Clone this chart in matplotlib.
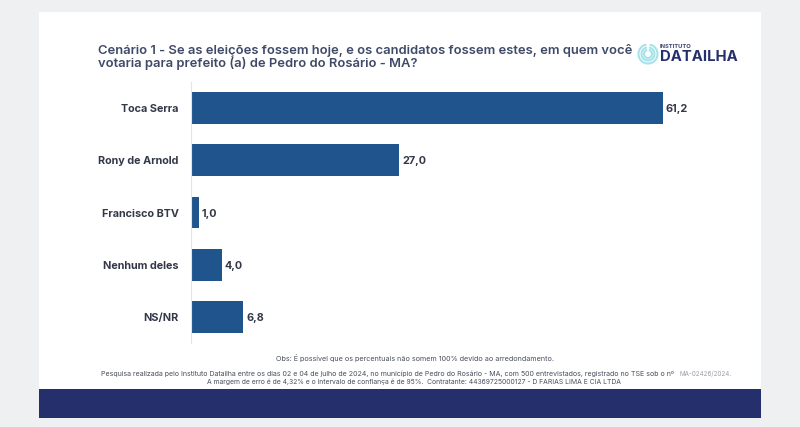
import matplotlib

matplotlib.use("Agg")
import matplotlib.pyplot as plt
from matplotlib.patches import Arc, Rectangle

categories = ["Toca Serra", "Rony de Arnold", "Francisco BTV", "Nenhum deles", "NS/NR"]
values = [61.2, 27.0, 1.0, 4.0, 6.8]
value_labels = ["61,2", "27,0", "1,0", "4,0", "6,8"]

title_lines = [
    "Cenário 1 - Se as eleições fossem hoje, e os candidatos fossem estes, em quem você",
    "votaria para prefeito (a) de Pedro do Rosário - MA?",
]
obs_text = "Obs: É possível que os percentuais não somem 100% devido ao arredondamento."
note_line1 = (
    "Pesquisa realizada pelo Instituto Datailha entre os dias 02 e 04 de julho de 2024, "
    "no município de Pedro do Rosário - MA, com 500 entrevistados, registrado no TSE sob o nº"
)
note_code = "MA-02426/2024."
note_line2 = (
    "A margem de erro é de 4,32% e o intervalo de confiança é de 95%.  "
    "Contratante: 44369725000127 - D FARIAS LIMA E CIA LTDA"
)

W, H = 800, 427
plt.rcParams["font.family"] = ["Inter", "DejaVu Sans"]

fig = plt.figure(figsize=((W + 0.01) / 100, (H + 0.01) / 100), dpi=100, facecolor="#eff0f2")

# whole figure in pixel coords for the page furniture
bg = fig.add_axes([0, 0, 1, 1])
bg.set_xlim(0, W)
bg.set_ylim(H, 0)
bg.axis("off")
bg.add_patch(Rectangle((39, 12), 722, 377, color="white", lw=0))
bg.add_patch(Rectangle((39, 389), 722, 29, color="#252f6b", lw=0))

title_color = "#3f4a68"
bg.text(98, 50, title_lines[0], fontsize=9.35, fontweight="semibold", color=title_color, va="center")
bg.text(98, 63, title_lines[1], fontsize=9.35, fontweight="semibold", color=title_color, va="center")

note_color = "#4a4f5c"
bg.text(415, 358, obs_text, fontsize=5.2, color=note_color, ha="center", va="center")
bg.text(101, 374, note_line1, fontsize=5.07, color=note_color, va="center")
bg.text(679, 374, note_code, fontsize=4.5, color="#9a9ea8", va="center")
bg.text(207, 382, note_line2, fontsize=4.9, color=note_color, va="center")

# logo
logo_color = "#a5e3ea"
for d in [8, 13, 19]:
    bg.add_patch(Arc((648, 54), d, d, theta1=-80, theta2=260, color=logo_color, lw=1.5))
bg.text(660, 46, "INSTITUTO", fontsize=4.2, fontweight="bold", color="#3a4470", va="center")
bg.text(660, 57, "DATAILHA", fontsize=10.7, fontweight="bold", color="#252f6b", va="center")

# bars
ax = fig.add_axes([191 / W, 1 - 343 / H, 590 / W, 261 / H])
ax.patch.set_alpha(0)
ax.barh(range(len(values)), values, height=0.61, color="#20548c")
ax.set_xlim(0, 590 / 7.71)
ax.set_ylim(4.5, -0.5)
ax.set_xticks([])
ax.set_yticks(range(len(categories)))
ax.set_yticklabels(categories, fontsize=7.8, fontweight="bold", color="#333849")
ax.tick_params(axis="y", length=0, pad=9)
for s in ["top", "right", "bottom"]:
    ax.spines[s].set_visible(False)
ax.spines["left"].set_color("#e2e4e8")
ax.spines["left"].set_linewidth(0.8)
for i, v in enumerate(values):
    ax.text(v + 0.4, i + 0.02, value_labels[i], fontsize=7.8, fontweight="bold", color="#333849", va="center")

fig.savefig("out.png", dpi=100, facecolor=fig.get_facecolor())
